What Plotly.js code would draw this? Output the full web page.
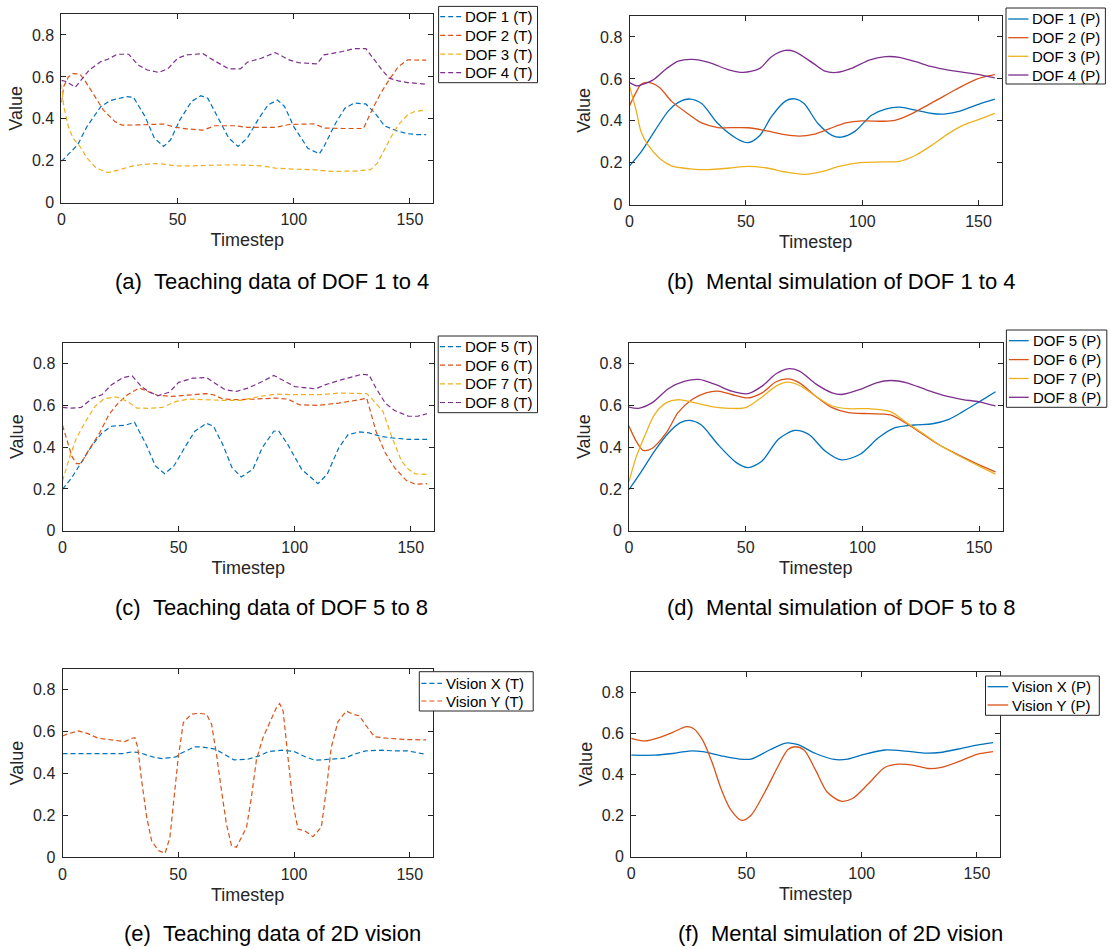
<!DOCTYPE html>
<html>
<head>
<meta charset="utf-8">
<script src="https://cdn.plot.ly/plotly-3.0.1.min.js"></script>
<style>html,body{margin:0;padding:0;background:#fff;}#chart{width:1111px;height:949px;}</style>
</head>
<body>
<div id="chart"></div>
<script>
// ---------- DATA ----------
// (a) Teaching data DOF 1-4
const a_x1 = [0,7,11,17,21,28,31,36,40,44,47,51,56,60,63,67,72,76,80,85,89,93,96,100,106,111,113,118,122,126,131,135,139,144,149,153,157];
const a_y1 = [0.197,0.276,0.363,0.459,0.487,0.506,0.503,0.411,0.308,0.268,0.300,0.395,0.483,0.510,0.498,0.411,0.308,0.268,0.308,0.403,0.467,0.490,0.459,0.363,0.260,0.233,0.268,0.379,0.451,0.475,0.471,0.427,0.367,0.344,0.329,0.325,0.325];
const a_x2 = [0,1,3,5,8,10,14,18,23,26,33,40,44,49,54,61,66,75,80,92,98,109,113,121,130,133,137,141,145,149,153,157];
const a_y2 = [0.478,0.554,0.600,0.616,0.613,0.584,0.514,0.443,0.387,0.370,0.371,0.375,0.375,0.360,0.352,0.346,0.367,0.367,0.359,0.359,0.373,0.376,0.356,0.354,0.354,0.427,0.514,0.586,0.649,0.681,0.682,0.680];
const a_x3 = [0,1,3,5,8,11,15,20,24,30,34,40,44,49,57,66,74,86,92,100,109,116,126,133,136,139,142,145,149,152,157];
const a_y3 = [0.565,0.459,0.363,0.308,0.268,0.213,0.165,0.144,0.154,0.173,0.181,0.187,0.184,0.176,0.176,0.178,0.181,0.176,0.165,0.160,0.157,0.149,0.151,0.157,0.189,0.252,0.316,0.371,0.419,0.435,0.442];
const a_x4 = [0,2,6,8,12,17,20,24,29,33,37,42,46,50,54,61,64,69,72,77,80,86,92,98,102,110,113,121,126,131,134,138,141,145,149,153,157];
const a_y4 = [0.583,0.578,0.551,0.578,0.633,0.673,0.684,0.708,0.708,0.657,0.633,0.621,0.641,0.689,0.705,0.711,0.689,0.657,0.638,0.638,0.670,0.689,0.716,0.681,0.668,0.662,0.705,0.721,0.735,0.735,0.689,0.633,0.594,0.581,0.573,0.568,0.565];

// (b) Mental simulation DOF 1-4
const b_x1 = [0,5,11,17,21,26,31,38,46,51,56,61,67,71,75,81,87,91,97,104,110,116,123,130,136,142,149,157];
const b_y1 = [0.185,0.252,0.355,0.451,0.488,0.504,0.483,0.387,0.316,0.296,0.330,0.420,0.494,0.505,0.483,0.387,0.331,0.322,0.351,0.427,0.456,0.465,0.451,0.435,0.433,0.446,0.475,0.503];
const b_x2 = [0,3,5,8,13,18,26,31,38,46,51,59,66,73,79,86,93,100,109,114,120,126,133,140,149,157];
const b_y2 = [0.472,0.539,0.574,0.583,0.558,0.494,0.427,0.390,0.368,0.368,0.367,0.352,0.335,0.327,0.335,0.363,0.390,0.400,0.398,0.402,0.427,0.462,0.505,0.548,0.598,0.620];
const b_x3 = [0,3,5,8,13,18,26,34,43,51,59,67,75,83,90,99,109,116,123,130,137,144,149,157];
const b_y3 = [0.567,0.443,0.347,0.284,0.220,0.185,0.171,0.167,0.175,0.183,0.175,0.156,0.145,0.159,0.183,0.201,0.204,0.207,0.236,0.284,0.339,0.382,0.402,0.436];
const b_x4 = [0,3,5,10,16,21,27,34,43,49,56,61,67,71,79,84,89,96,103,110,116,123,130,137,149,157];
const b_y4 = [0.582,0.567,0.571,0.594,0.650,0.685,0.693,0.679,0.642,0.631,0.650,0.706,0.736,0.730,0.674,0.637,0.631,0.653,0.690,0.706,0.703,0.682,0.658,0.642,0.623,0.605];

// (c) Teaching data DOF 5-8
const c_x5 = [0,4,8,13,17,21,27,31,36,40,44,48,53,57,62,65,69,73,77,82,86,91,93,97,103,110,114,119,123,128,132,137,142,149,157];
const c_y5 = [0.198,0.254,0.325,0.413,0.468,0.500,0.505,0.519,0.413,0.310,0.273,0.310,0.405,0.476,0.514,0.500,0.413,0.302,0.257,0.294,0.397,0.476,0.479,0.413,0.294,0.225,0.270,0.397,0.460,0.473,0.468,0.452,0.444,0.437,0.437];
const c_x6 = [0,2,4,6,8,11,16,20,24,28,33,36,41,47,54,62,65,69,76,85,92,97,102,110,119,128,131,133,135,139,143,148,152,157];
const c_y6 = [0.505,0.429,0.357,0.321,0.321,0.381,0.468,0.556,0.611,0.651,0.683,0.670,0.648,0.643,0.648,0.656,0.651,0.630,0.627,0.632,0.635,0.630,0.603,0.600,0.611,0.627,0.635,0.556,0.476,0.373,0.302,0.241,0.222,0.225];
const c_x7 = [0,3,6,10,14,18,23,28,32,37,43,49,54,62,69,77,85,92,100,112,119,131,133,138,142,146,149,152,157];
const c_y7 = [0.238,0.349,0.444,0.524,0.595,0.632,0.641,0.619,0.587,0.586,0.590,0.619,0.630,0.625,0.624,0.624,0.643,0.654,0.651,0.651,0.659,0.656,0.635,0.571,0.444,0.333,0.294,0.272,0.270];
const c_x8 = [0,4,8,13,17,21,26,30,34,37,41,46,50,56,62,66,70,75,80,86,91,96,100,109,113,120,129,132,135,139,143,149,153,157];
const c_y8 = [0.590,0.587,0.590,0.635,0.651,0.698,0.733,0.741,0.690,0.667,0.646,0.663,0.710,0.730,0.733,0.706,0.675,0.667,0.683,0.714,0.743,0.714,0.690,0.679,0.698,0.722,0.749,0.746,0.683,0.611,0.575,0.548,0.548,0.560];

// (d) Mental simulation DOF 5-8
const d_x5 = [0,5,11,17,22,26,31,38,46,51,57,64,71,77,84,91,99,107,114,122,130,137,143,150,157];
const d_y5 = [0.197,0.278,0.382,0.469,0.517,0.528,0.506,0.414,0.326,0.302,0.334,0.438,0.480,0.461,0.382,0.339,0.366,0.446,0.493,0.506,0.512,0.533,0.570,0.617,0.665];
const d_x6 = [0,3,6,10,16,21,27,33,38,44,51,57,63,68,73,80,87,94,103,112,119,126,133,140,150,157];
const d_y6 = [0.501,0.430,0.385,0.395,0.469,0.565,0.628,0.660,0.668,0.652,0.636,0.660,0.713,0.727,0.708,0.644,0.589,0.565,0.560,0.554,0.512,0.461,0.410,0.369,0.315,0.282];
const d_x7 = [0,3,7,11,16,21,27,36,43,50,57,63,68,73,80,87,94,103,112,119,126,133,140,150,157];
const d_y7 = [0.235,0.350,0.461,0.557,0.613,0.627,0.616,0.593,0.586,0.589,0.640,0.692,0.711,0.695,0.644,0.597,0.584,0.584,0.570,0.517,0.465,0.410,0.366,0.309,0.271];
const d_x8 = [0,4,10,17,24,30,37,44,51,57,63,68,73,80,87,91,99,106,112,119,127,136,143,150,157];
const d_y8 = [0.592,0.586,0.613,0.681,0.716,0.724,0.700,0.668,0.656,0.692,0.751,0.775,0.764,0.703,0.660,0.652,0.676,0.708,0.719,0.708,0.676,0.644,0.628,0.617,0.597];

// (e) Teaching data 2D vision
const e_xX = [0,10,20,26,30,33,39,43,49,51,57,60,66,70,74,80,85,89,95,100,105,109,116,122,126,131,138,143,149,153,157];
const e_yX = [0.495,0.495,0.495,0.495,0.503,0.500,0.479,0.471,0.479,0.495,0.527,0.527,0.516,0.492,0.465,0.468,0.484,0.505,0.511,0.505,0.479,0.463,0.468,0.473,0.492,0.508,0.511,0.508,0.508,0.500,0.491];
const e_xY = [0,2.6,6.9,11,15.5,21,27,30,31.3,32.5,34.2,36.4,38.5,41.4,44.3,46.4,47.8,50,52.2,55.7,58.6,62.2,64.4,66.5,68.7,70.8,73,75.1,77.3,79.5,81.6,83.8,86.6,89.5,92.4,93.8,95.3,97.4,99.6,101.7,104.6,108.2,111.8,113.9,116.1,119,122.6,125.4,128.3,131.2,134.8,140.5,148.6,157];
const e_yY = [0.579,0.590,0.603,0.590,0.568,0.559,0.552,0.568,0.571,0.524,0.365,0.190,0.079,0.032,0.019,0.095,0.254,0.476,0.643,0.683,0.687,0.683,0.635,0.492,0.317,0.159,0.056,0.048,0.095,0.143,0.286,0.468,0.571,0.643,0.714,0.733,0.698,0.476,0.254,0.135,0.127,0.098,0.143,0.317,0.524,0.648,0.698,0.683,0.675,0.627,0.575,0.568,0.562,0.560];

// (f) Mental simulation 2D vision
const f_xX = [0,10,18,25,31,39,47,52,60,67,72,80,88,94,101,110,119,127,134,142,150,157];
const f_yX = [0.494,0.494,0.502,0.514,0.511,0.491,0.475,0.475,0.519,0.553,0.546,0.502,0.473,0.475,0.498,0.519,0.514,0.504,0.507,0.524,0.543,0.555];
const f_xY = [0,6,12,18,24,27,31,35,39,43,48,52,58,64,68,71,75,80,85,91,96,103,110,116,122,129,134,142,150,157];
const f_yY = [0.576,0.563,0.579,0.605,0.633,0.624,0.567,0.462,0.330,0.232,0.177,0.202,0.315,0.446,0.522,0.535,0.519,0.421,0.315,0.270,0.283,0.356,0.434,0.450,0.446,0.429,0.433,0.462,0.498,0.511];

const xTicks = [0, 50, 100, 150];
const yTicks = [0, 0.2, 0.4, 0.6, 0.8];
const captions = [
  "(a)\u00A0\u00A0Teaching data of DOF 1 to 4",
  "(b)\u00A0\u00A0Mental simulation of DOF 1 to 4",
  "(c)\u00A0\u00A0Teaching data of DOF 5 to 8",
  "(d)\u00A0\u00A0Mental simulation of DOF 5 to 8",
  "(e)\u00A0\u00A0Teaching data of 2D vision",
  "(f)\u00A0\u00A0Mental simulation of 2D vision"
];
const namesA = ["DOF 1 (T)","DOF 2 (T)","DOF 3 (T)","DOF 4 (T)"];
const namesB = ["DOF 1 (P)","DOF 2 (P)","DOF 3 (P)","DOF 4 (P)"];
const namesC = ["DOF 5 (T)","DOF 6 (T)","DOF 7 (T)","DOF 8 (T)"];
const namesD = ["DOF 5 (P)","DOF 6 (P)","DOF 7 (P)","DOF 8 (P)"];
const namesE = ["Vision X (T)","Vision Y (T)"];
const namesF = ["Vision X (P)","Vision Y (P)"];

// ---------- STYLE / LAYOUT ----------
const W = 1111, H = 949;
const COLORS = ['#0072BD', '#D95319', '#EDB120', '#7E2F8E'];
const AX = '#262626';
const FONT = 'Liberation Sans, Arial, Helvetica, sans-serif';

// plot boxes in pixels
const boxes = [
  {l: 61.4, r: 433.2, t: 14,    b: 202.7},
  {l: 629.5, r: 1001.8, t: 16,  b: 204.7},
  {l: 62.5, r: 434,   t: 342.7, b: 530.7},
  {l: 629,  r: 1002.5, t: 342.7, b: 530.7},
  {l: 62.5, r: 432.9, t: 668.7, b: 857.3},
  {l: 631.2, r: 1000, t: 671.7, b: 856.7}
];
const capPos = [
  {x: 272.3, y: 281.7}, {x: 840.5, y: 281.7},
  {x: 271.4, y: 607.3}, {x: 840.5, y: 607.3},
  {x: 272.3, y: 933.3}, {x: 840,   y: 933.3}
];
// legends: box, line x-range, text x, entry y positions
const legends = [
  {x0: 438.6, x1: 537.5, y0: 6.4,  y1: 82.7,  lx0: 440.2, lx1: 461.4, tx: 463,    ys: [16.7, 35.4, 54.1, 72.7], names: namesA, dash: true},
  {x0: 1006,  x1: 1105.4, y0: 8,   y1: 84,    lx0: 1008.2, lx1: 1028.4, tx: 1030.2, ys: [19, 37.7, 56.3, 75], names: namesB, dash: false},
  {x0: 438.2, x1: 537.5, y0: 336,  y1: 412.7, lx0: 440, lx1: 461.4, tx: 463,    ys: [346.7, 365.2, 383.8, 402.5], names: namesC, dash: true},
  {x0: 1006.4, x1: 1106.8, y0: 330, y1: 407.3, lx0: 1008.9, lx1: 1028.7, tx: 1030.5, ys: [340.7, 359.6, 378.5, 397.3], names: namesD, dash: false},
  {x0: 419.3, x1: 533.2, y0: 671.7, y1: 711,  lx0: 421.4, lx1: 442, tx: 444,    ys: [683.3, 701], names: namesE, dash: true},
  {x0: 985.5, x1: 1099.3, y0: 676, y1: 715.3, lx0: 987.6, lx1: 1008.2, tx: 1010,   ys: [686.7, 705], names: namesF, dash: false}
];

const DASH = '5px,3px';
function tr(x, y, i, k, dashed, name) {
  const ax = i === 0 ? '' : String(i + 1);
  return {
    x: x, y: y, type: 'scatter', mode: 'lines', name: name,
    xaxis: 'x' + ax, yaxis: 'y' + ax, showlegend: false, hoverinfo: 'skip',
    line: {color: COLORS[k], width: dashed ? 1.2 : 1.3, dash: dashed ? DASH : 'solid',
           shape: dashed ? 'linear' : 'spline', smoothing: 0.8}
  };
}

const data = [
  tr(a_x1, a_y1, 0, 0, true, namesA[0]), tr(a_x2, a_y2, 0, 1, true, namesA[1]),
  tr(a_x3, a_y3, 0, 2, true, namesA[2]), tr(a_x4, a_y4, 0, 3, true, namesA[3]),
  tr(b_x1, b_y1, 1, 0, false, namesB[0]), tr(b_x2, b_y2, 1, 1, false, namesB[1]),
  tr(b_x3, b_y3, 1, 2, false, namesB[2]), tr(b_x4, b_y4, 1, 3, false, namesB[3]),
  tr(c_x5, c_y5, 2, 0, true, namesC[0]), tr(c_x6, c_y6, 2, 1, true, namesC[1]),
  tr(c_x7, c_y7, 2, 2, true, namesC[2]), tr(c_x8, c_y8, 2, 3, true, namesC[3]),
  tr(d_x5, d_y5, 3, 0, false, namesD[0]), tr(d_x6, d_y6, 3, 1, false, namesD[1]),
  tr(d_x7, d_y7, 3, 2, false, namesD[2]), tr(d_x8, d_y8, 3, 3, false, namesD[3]),
  tr(e_xX, e_yX, 4, 0, true, namesE[0]), tr(e_xY, e_yY, 4, 1, true, namesE[1]),
  tr(f_xX, f_yX, 5, 0, false, namesF[0]), tr(f_xY, f_yY, 5, 1, false, namesF[1])
];

const layout = {
  width: W, height: H,
  margin: {l: 0, r: 0, t: 0, b: 0},
  paper_bgcolor: '#ffffff', plot_bgcolor: '#ffffff',
  font: {family: FONT, color: AX},
  showlegend: false,
  shapes: [], annotations: []
};

boxes.forEach((bx, i) => {
  const s = i === 0 ? '' : String(i + 1);
  const common = {
    showline: true, mirror: 'ticks', linecolor: AX, linewidth: 1,
    ticks: 'inside', ticklen: 5, tickwidth: 1, tickcolor: AX,
    showgrid: false, zeroline: false, fixedrange: true,
    tickfont: {family: FONT, size: 16, color: AX}
  };
  layout['xaxis' + s] = Object.assign({}, common, {
    domain: [bx.l / W, bx.r / W], anchor: 'y' + s,
    range: [0, 160], tickvals: xTicks, ticktext: xTicks.map(String),
    ticklabelstandoff: 2,
    title: {text: 'Timestep', font: {family: FONT, size: 18, color: AX}, standoff: 6}
  });
  layout['yaxis' + s] = Object.assign({}, common, {
    domain: [1 - bx.b / H, 1 - bx.t / H], anchor: 'x' + s,
    range: [0, 0.9], tickvals: yTicks, ticktext: yTicks.map(String),
    ticklabelstandoff: 3,
    title: {text: 'Value', font: {family: FONT, size: 18, color: AX}, standoff: 4}
  });
  layout.annotations.push({
    xref: 'paper', yref: 'paper', x: capPos[i].x / W, y: 1 - capPos[i].y / H,
    xanchor: 'center', yanchor: 'middle', showarrow: false,
    text: captions[i], font: {family: FONT, size: 22, color: '#000000'}
  });
});

legends.forEach((lg) => {
  layout.shapes.push({
    type: 'rect', xref: 'paper', yref: 'paper', layer: 'above',
    x0: lg.x0 / W, x1: lg.x1 / W, y0: 1 - lg.y1 / H, y1: 1 - lg.y0 / H,
    line: {color: AX, width: 1}, fillcolor: '#ffffff'
  });
  lg.names.forEach((nm, k) => {
    layout.shapes.push({
      type: 'line', xref: 'paper', yref: 'paper', layer: 'above',
      x0: lg.lx0 / W, x1: lg.lx1 / W, y0: 1 - lg.ys[k] / H, y1: 1 - lg.ys[k] / H,
      line: {color: COLORS[k], width: lg.dash ? 1.2 : 1.3, dash: lg.dash ? DASH : 'solid'}
    });
    layout.annotations.push({
      xref: 'paper', yref: 'paper', x: lg.tx / W, y: 1 - lg.ys[k] / H,
      xanchor: 'left', yanchor: 'middle', showarrow: false,
      text: nm, font: {family: FONT, size: 15, color: '#000000'}
    });
  });
});

Plotly.newPlot('chart', data, layout, {staticPlot: true, displayModeBar: false});
</script>
</body>
</html>
